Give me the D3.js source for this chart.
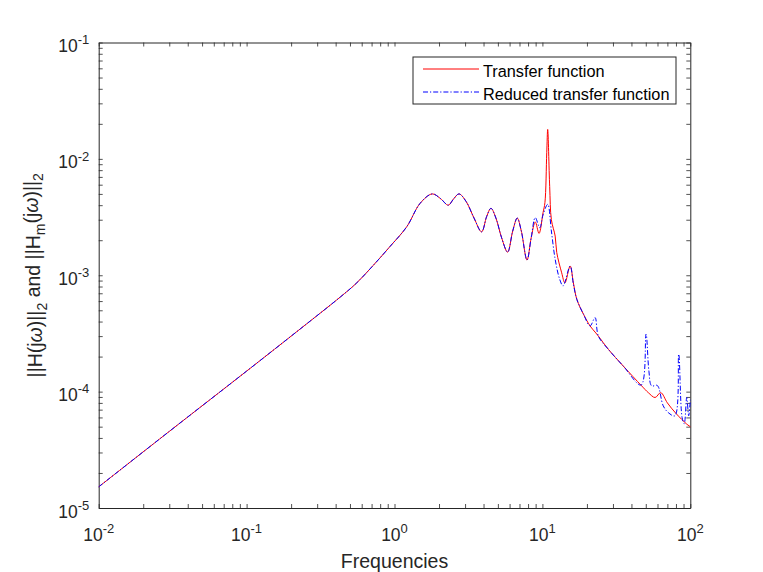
<!DOCTYPE html>
<html>
<head>
<meta charset="utf-8">
<script src="https://cdn.jsdelivr.net/npm/d3@7"></script>
<style>
  body { margin: 0; background: #fff; }
  svg { display: block; font-family: "Liberation Sans", Arial, sans-serif; }
</style>
</head>
<body>
<svg id="chart"></svg>
<script>
// full transfer function (red)
const fullFreq = [0.01, 0.03, 0.1, 0.23, 0.43, 0.55, 0.72, 0.93, 1.21, 1.49, 1.8, 2.05, 2.31, 2.5, 2.73, 3.05, 3.45,
  3.88, 4.2, 4.49, 4.85, 5.3, 5.82, 6.3, 6.76, 7.2, 7.87, 8.4, 8.95, 9.49, 10.1, 10.4, 10.7, 10.86,
  11.2, 11.5, 12.2, 12.5, 13.5, 14.2, 15.4, 16.2, 17.1, 19, 21, 22.7, 23.9, 28, 35.2, 46.9, 52,
  57.8, 63.1, 70, 80, 94.6, 100];
const fullMag = [1.52e-5, 4.55e-5, 1.5e-4, 3.45e-4, 6.5e-4, 8.5e-4, 1.22e-3, 1.76e-3, 2.61e-3, 4.15e-3, 5.0e-3, 4.55e-3, 4.0e-3, 4.5e-3, 5.0e-3, 4.3e-3, 3.1e-3,
  2.36e-3, 3.2e-3, 3.76e-3, 3.1e-3, 2.1e-3, 1.58e-3, 2.4e-3, 3.1e-3, 2.4e-3, 1.35e-3, 2.1e-3, 2.87e-3, 2.29e-3, 3.45e-3, 4.2e-3, 1.13e-2, 1.79e-2,
  5.8e-3, 3.0e-3, 2.17e-3, 1.57e-3, 1.05e-3, 8.6e-4, 1.2e-3, 8.6e-4, 6.2e-4, 4.6e-4, 3.67e-4, 3.25e-4, 3.0e-4, 2.3e-4, 1.66e-4, 1.12e-4, 9.8e-5,
  8.9e-5, 9.8e-5, 8.0e-5, 6.5e-5, 5.26e-5, 5.0e-5];

// reduced transfer function (blue, dash-dot)
const reducedFreq = [0.01, 0.03, 0.1, 0.23, 0.43, 0.55, 0.72, 0.93, 1.21, 1.49, 1.8, 2.05, 2.31, 2.5, 2.73, 3.05, 3.45,
  3.88, 4.2, 4.49, 4.85, 5.3, 5.82, 6.3, 6.76, 7.2, 7.87, 8.4, 8.95, 9.6, 10.1, 10.86, 11.5, 12.2,
  13.1, 13.8, 15.4, 16.2, 17.1, 19, 21, 22.7, 23.9, 28, 35.2, 46.5, 50.2, 52.5, 54.8, 59.8, 65.6,
  71, 78.7, 83.5, 88, 91, 94.6, 97.5, 100];
const reducedMag = [1.52e-5, 4.55e-5, 1.5e-4, 3.45e-4, 6.5e-4, 8.5e-4, 1.22e-3, 1.76e-3, 2.61e-3, 4.15e-3, 5.0e-3, 4.55e-3, 4.0e-3, 4.5e-3, 5.0e-3, 4.3e-3, 3.1e-3,
  2.36e-3, 3.2e-3, 3.76e-3, 3.1e-3, 2.1e-3, 1.58e-3, 2.4e-3, 3.1e-3, 2.4e-3, 1.35e-3, 2.1e-3, 3.13e-3, 2.56e-3, 3.3e-3, 4.07e-3, 2.4e-3, 1.37e-3,
  9.2e-4, 8.1e-4, 1.2e-3, 8.4e-4, 6.2e-4, 4.6e-4, 3.67e-4, 4.33e-4, 3.0e-4, 2.3e-4, 1.66e-4, 1.14e-4, 3.12e-4, 1.5e-4, 1.12e-4, 1.13e-4, 7.55e-5,
  6.6e-5, 6.2e-5, 2.1e-4, 6e-5, 5.3e-5, 8.9e-5, 6.2e-5, 8.5e-5];

const xExponents = [-2, -1, 0, 1, 2];
const yExponents = [-5, -4, -3, -2, -1];
const legendLabels = ["Transfer function", "Reduced transfer function"];

const svgWidth = 763, svgHeight = 572;
const margin = { top: 42.5, right: 72.7, bottom: 64, left: 98.7 };
const width = svgWidth - margin.left - margin.right;
const height = svgHeight - margin.top - margin.bottom;
const axisColor = "#262626";

const svg = d3.select("#chart").attr("width", svgWidth).attr("height", svgHeight);
const g = svg.append("g").attr("transform", `translate(${margin.left},${margin.top})`);

const x = d3.scaleLog().domain([1e-2, 1e2]).range([0, width]);
const y = d3.scaleLog().domain([1e-5, 1e-1]).range([height, 0]);

// ticks, inward, on all four sides
const tickLen = 4;
const axes = [
  { ax: d3.axisBottom(x), tr: `translate(0,${height})` },
  { ax: d3.axisTop(x), tr: "translate(0,0)" },
  { ax: d3.axisLeft(y), tr: "translate(0,0)" },
  { ax: d3.axisRight(y), tr: `translate(${width},0)` },
];
axes.forEach(({ ax, tr }) => {
  const a = g.append("g").attr("transform", tr)
    .call(ax.tickSizeInner(-tickLen).tickSizeOuter(0).tickFormat(""));
  a.select(".domain").attr("stroke", axisColor).attr("stroke-width", 1);
  a.selectAll(".tick line").attr("stroke", axisColor).attr("stroke-width", 0.8);
});

// curves
const line = d3.line()
  .x((d) => x(d[0]))
  .y((d) => y(d[1]))
  .curve(d3.curveCatmullRom.alpha(0.5));

const fullData = fullFreq.map((f, i) => [f, fullMag[i]]);
const reducedData = reducedFreq.map((f, i) => [f, reducedMag[i]]);

g.append("path")
  .datum(fullData)
  .attr("fill", "none")
  .attr("stroke", "#ff0000")
  .attr("stroke-width", 1)
  .attr("d", line);

g.append("path")
  .datum(reducedData)
  .attr("fill", "none")
  .attr("stroke", "#0000ff")
  .attr("stroke-width", 1)
  .attr("stroke-dasharray", "5,2,1.2,2")
  .attr("d", line);

// tick labels as 10^n
const fs = 17.5;
g.selectAll(".xlab")
  .data(xExponents)
  .join("text")
  .attr("class", "xlab")
  .attr("x", (d) => x(Math.pow(10, d)))
  .attr("y", height + 33)
  .attr("text-anchor", "middle")
  .attr("fill", axisColor)
  .style("font-size", fs + "px")
  .each(function (d) {
    const t = d3.select(this);
    t.append("tspan").text("10");
    t.append("tspan").attr("dy", "-0.6em").style("font-size", "13px").text(d);
  });

g.selectAll(".ylab")
  .data(yExponents)
  .join("text")
  .attr("class", "ylab")
  .attr("x", -9.5)
  .attr("y", (d) => y(Math.pow(10, d)) + 9.5)
  .attr("text-anchor", "end")
  .attr("fill", axisColor)
  .style("font-size", fs + "px")
  .each(function (d) {
    const t = d3.select(this);
    t.append("tspan").text("10");
    t.append("tspan").attr("dy", "-0.6em").style("font-size", "13px").text(d);
  });

// axis titles
g.append("text")
  .attr("x", width / 2)
  .attr("y", height + 60)
  .attr("text-anchor", "middle")
  .attr("fill", axisColor)
  .style("font-size", "19.5px")
  .text("Frequencies");

const yTitle = g.append("text")
  .attr("transform", `translate(${-57},${height / 2}) rotate(-90)`)
  .attr("text-anchor", "middle")
  .attr("fill", axisColor)
  .style("font-size", "19.5px");
yTitle.append("tspan").text("||H(j");
yTitle.append("tspan").style("font-style", "italic").text("ω");
yTitle.append("tspan").text(")||");
yTitle.append("tspan").attr("dy", "0.35em").style("font-size", "14px").text("2");
yTitle.append("tspan").attr("dy", "-0.35em").text(" and ||H");
yTitle.append("tspan").attr("dy", "0.35em").style("font-size", "14px").text("m");
yTitle.append("tspan").attr("dy", "-0.35em").text("(j");
yTitle.append("tspan").style("font-style", "italic").text("ω");
yTitle.append("tspan").text(")||");
yTitle.append("tspan").attr("dy", "0.35em").style("font-size", "14px").text("2");

// legend
const legend = svg.append("g").attr("transform", "translate(413,57)");
legend.append("rect")
  .attr("width", 263)
  .attr("height", 47)
  .attr("fill", "#fff")
  .attr("stroke", axisColor)
  .attr("stroke-width", 1);

const legendStyles = [
  { color: "#ff0000", dash: null },
  { color: "#0000ff", dash: "5,2,1.2,2" },
];
legendLabels.forEach((label, i) => {
  const ly = 12 + i * 23;
  legend.append("line")
    .attr("x1", 10).attr("x2", 66)
    .attr("y1", ly).attr("y2", ly)
    .attr("stroke", legendStyles[i].color)
    .attr("stroke-width", 1)
    .attr("stroke-dasharray", legendStyles[i].dash);
  legend.append("text")
    .attr("x", 70)
    .attr("y", ly + 7.5)
    .attr("fill", "#000")
    .style("font-size", "16.3px")
    .text(label);
});
</script>
</body>
</html>
